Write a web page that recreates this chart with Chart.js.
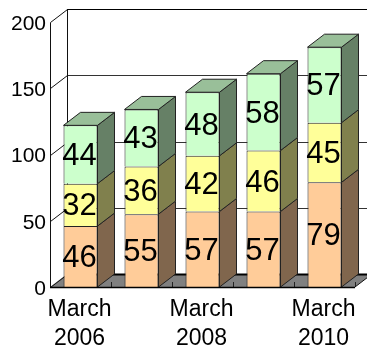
<!DOCTYPE html>
<html>
<head>
<meta charset="utf-8">
<script src="https://cdn.jsdelivr.net/npm/chart.js@4"></script>
<style>
html,body{margin:0;padding:0;background:#fff}
canvas{display:block}
</style>
</head>
<body>
<canvas id="chart" width="367" height="348"></canvas>
<script>
const categories = [['March','2006'],['March','2007'],['March','2008'],['March','2009'],['March','2010']];
const lowerValues = [46,55,57,57,79];
const middleValues = [32,36,42,46,45];
const upperValues = [44,43,48,58,57];
const yTicks = [0,50,100,150,200];

const DEPTH_X = 17, DEPTH_Y = 13;

function shade(rgb, k){
  return `rgb(${rgb.map(c=>Math.round(c*k)).join(',')})`;
}
const palette = [[255,204,153],[255,255,153],[204,255,204]];

function poly(ctx, pts, fill, stroke, width){
  ctx.beginPath();
  pts.forEach((p,i)=> i ? ctx.lineTo(p[0],p[1]) : ctx.moveTo(p[0],p[1]));
  ctx.closePath();
  if(fill){ctx.fillStyle=fill;ctx.fill();}
  if(stroke){ctx.strokeStyle=stroke;ctx.lineWidth=width||1;ctx.stroke();}
}
function line(ctx,x1,y1,x2,y2,color,width){
  ctx.beginPath();ctx.moveTo(x1,y1);ctx.lineTo(x2,y2);
  ctx.strokeStyle=color;ctx.lineWidth=width||1;ctx.stroke();
}

// Walls, floor and the receding faces of each bar sit behind the front faces.
const box3d = {
  id:'box3d',
  beforeDatasetsDraw(chart){
    const {ctx,chartArea:a,scales:{x,y}} = chart;
    ctx.save();
    const backX = a.left+DEPTH_X;
    const floorY = y.getPixelForValue(0);
    poly(ctx,[[a.left,floorY],[backX,floorY-DEPTH_Y],[a.right+DEPTH_X,floorY-DEPTH_Y],[a.right,floorY]],'#808080');
    yTicks.forEach(v=>{
      const py = Math.round(y.getPixelForValue(v))+0.5;
      const color = v===0 ? '#000' : (v===200 ? '#000' : '#333');
      line(ctx,a.left+0.5,py,backX+0.5,py-DEPTH_Y,'#111');
      line(ctx,backX,py-DEPTH_Y,a.right+DEPTH_X,py-DEPTH_Y,color,v===0?2:1);
    });
    const topY = Math.round(y.getPixelForValue(200))+0.5;
    line(ctx,a.left+0.5,topY,a.left+0.5,floorY,'#111');
    line(ctx,backX+0.5,topY-DEPTH_Y,backX+0.5,floorY-DEPTH_Y,'#111');
    const band = x.getPixelForValue(1)-x.getPixelForValue(0);
    for(let i=1;i<=categories.length;i++){
      const tx = Math.round(a.left+band*i)+0.5;
      line(ctx,tx,floorY-5,tx,floorY,'#222');
    }
    line(ctx,a.right,floorY,a.right+DEPTH_X,floorY-DEPTH_Y,'#111');
    chart.data.datasets.forEach((ds,d)=>{
      const rgb = palette[d];
      chart.getDatasetMeta(d).data.forEach(bar=>{
        const w = bar.width/2, l = bar.x-w, r = bar.x+w, t = bar.y, b = bar.base;
        poly(ctx,[[r,t],[r+DEPTH_X,t-DEPTH_Y],[r+DEPTH_X,b-DEPTH_Y],[r,b]],shade(rgb,0.5),'#222');
        if(d===chart.data.datasets.length-1){
          poly(ctx,[[l,t],[l+DEPTH_X,t-DEPTH_Y],[r+DEPTH_X,t-DEPTH_Y],[r,t]],shade(rgb,0.75),'#222');
        }
      });
    });
    ctx.restore();
  },
  afterDatasetsDraw(chart){
    const {ctx,scales:{y}} = chart;
    const {left,right} = chart.chartArea;
    ctx.save();
    const base = Math.round(y.getPixelForValue(0))+0.5;
    line(ctx,left,base,right,base,'#000',1.5);
    ctx.font = '31px "Liberation Sans", Arial, sans-serif';
    ctx.fillStyle = '#000';
    ctx.textAlign = 'center';
    ctx.textBaseline = 'middle';
    chart.data.datasets.forEach((ds,d)=>{
      chart.getDatasetMeta(d).data.forEach((bar,i)=>{
        ctx.fillText(String(ds.data[i]), bar.x-1, (bar.y+bar.base)/2+2);
      });
    });
    ctx.restore();
  }
};

const makeSet = (data,rgb)=>({
  data,
  backgroundColor:shade(rgb,1),
  borderColor:'#222',
  borderWidth:1,
  barPercentage:1,
  categoryPercentage:34/61
});

new Chart(document.getElementById('chart'),{
  type:'bar',
  data:{
    labels:categories,
    datasets:[makeSet(lowerValues,palette[0]),makeSet(middleValues,palette[1]),makeSet(upperValues,palette[2])]
  },
  plugins:[box3d],
  options:{
    responsive:false,
    animation:false,
    layout:{padding:{top:22,right:12,left:0,bottom:0}},
    plugins:{legend:{display:false},tooltip:{enabled:false}},
    scales:{
      x:{
        stacked:true,
        grid:{display:false,drawTicks:false},
        border:{display:false},
        afterFit(s){s.height=61;},
        ticks:{
          autoSkip:false,
          maxRotation:0,
          padding:8,
          labelOffset:-1,
          color:'#000',
          font:{family:'"Liberation Sans", Arial, sans-serif',size:23,lineHeight:1.26},
          callback(v,i){return i%2 ? '' : categories[i];}
        }
      },
      y:{
        stacked:true,
        min:0,
        max:200,
        afterBuildTicks(s){s.ticks=yTicks.map(value=>({value}));},
        afterFit(s){s.width=50;},
        grid:{display:false,drawTicks:false},
        border:{display:false},
        ticks:{
          padding:4,
          labelOffset:2,
          color:'#000',
          font:{family:'"Liberation Sans", Arial, sans-serif',size:21}
        }
      }
    }
  }
});
</script>
</body>
</html>
